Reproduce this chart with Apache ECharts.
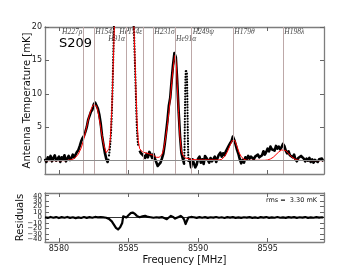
<!DOCTYPE html>
<html><head><meta charset="utf-8">
<script src="https://cdn.jsdelivr.net/npm/echarts@6/dist/echarts.min.js"></script>
<style>html,body{margin:0;padding:0;background:#fff}#c{width:360px;height:270px}</style>
</head><body><div id="c"></div>
<script>
// ---- data ----
const spectrum = [
[8579.0,0.3],[8579.1,-0.2],[8579.2,0.5],[8579.3,0.1],[8579.4,0.7],[8579.5,-0.1],[8579.6,0.4],[8579.7,0.8],[8579.8,0.0],[8579.9,0.3],
[8580.0,0.6],[8580.1,-0.2],[8580.2,0.5],[8580.3,0.2],[8580.4,0.8],[8580.5,-0.1],[8580.6,0.3],[8580.7,0.7],[8580.8,0.1],[8580.9,0.4],
[8581.0,0.9],[8581.1,0.5],[8581.2,0.9],[8581.3,1.3],[8581.4,1.6],[8581.5,2.2],[8581.6,2.9],[8581.7,3.4],[8581.8,3.7],[8581.9,4.3],
[8582.0,5.0],[8582.1,6.1],[8582.2,6.7],[8582.3,7.3],[8582.4,7.6],[8582.5,8.4],[8582.6,8.7],[8582.7,8.9],[8582.8,7.8],[8582.9,6.9],
[8583.0,5.6],[8583.1,3.7],[8583.2,2.4],[8583.3,1.2],[8583.4,0.3],[8583.5,-0.2],[8583.55,0.3],[8583.6,0.8],[8583.65,1.6],[8583.7,2.8],
[8583.75,4.5],[8583.8,7.0],[8583.85,10.5],[8583.9,15.0],[8583.95,19.5],
[8584.0,24],[8584.1,31],[8584.2,38],[8584.3,44],[8584.4,48],[8584.5,51],[8584.6,52],[8584.7,51],[8584.8,48],[8584.9,44],
[8585.0,39],[8585.1,33],[8585.2,27],[8585.3,23],[8585.35,21],[8585.4,19],[8585.45,15.5],[8585.5,12],[8585.55,8.5],[8585.6,5.0],
[8585.65,3.2],[8585.7,2.2],[8585.8,1.5],[8585.9,1.1],
[8586.0,1.3],[8586.1,0.7],[8586.2,0.4],[8586.3,1.0],[8586.4,0.5],[8586.5,1.3],[8586.6,0.9],[8586.7,0.4],[8586.8,1.0],[8586.9,0.3],
[8587.0,0.5],[8587.1,-0.8],[8587.2,-0.9],[8587.3,-0.3],[8587.4,0.3],[8587.5,1.0],[8587.6,2.4],[8587.7,4.2],[8587.8,6.0],[8587.9,8.2],
[8588.0,9.4],[8588.1,12.0],[8588.2,14.3],[8588.3,16.1],[8588.4,15.5],[8588.5,12.0],[8588.6,7.5],[8588.7,3.8],[8588.8,1.2],[8588.9,0.3],
[8589.0,-0.5],[8589.03,2.0],[8589.06,7.5],[8589.09,12.0],[8589.12,13.6],[8589.16,13.8],[8589.2,13.0],[8589.23,9.5],[8589.26,4.5],[8589.29,1.0],[8589.32,-0.2],
[8589.4,0.2],[8589.5,-1.0],[8589.6,0.2],[8589.7,-0.4],[8589.8,-1.0],[8589.9,-0.6],
[8590.0,0.3],[8590.1,0.6],[8590.2,-0.3],[8590.3,0.2],[8590.4,-0.5],[8590.5,0.7],[8590.6,0.8],[8590.7,0.1],[8590.8,-0.3],[8590.9,0.4],
[8591.0,-0.1],[8591.1,0.2],[8591.2,0.6],[8591.3,-0.2],[8591.4,0.4],[8591.5,0.9],[8591.6,1.2],[8591.7,0.6],[8591.8,1.1],[8591.9,0.8],
[8592.0,1.4],[8592.1,1.5],[8592.2,2.2],[8592.3,2.6],[8592.4,2.9],[8592.5,3.6],[8592.6,3.1],[8592.7,2.4],[8592.8,1.6],[8592.9,1.0],
[8593.0,0.2],[8593.1,-0.4],[8593.2,0.1],[8593.3,-0.3],[8593.4,0.5],[8593.5,0.2],[8593.6,0.7],[8593.7,0.3],[8593.8,0.6],[8593.9,0.8],
[8594.0,0.2],[8594.1,0.6],[8594.2,0.4],[8594.3,0.9],[8594.4,0.5],[8594.5,0.3],[8594.6,0.8],[8594.7,1.4],[8594.8,0.9],[8594.9,1.3],
[8595.0,1.8],[8595.1,1.4],[8595.2,2.1],[8595.3,1.7],[8595.4,1.9],[8595.5,1.5],[8595.6,2.2],[8595.7,1.8],[8595.8,2.1],[8595.9,1.7],
[8596.0,2.0],[8596.1,2.5],[8596.2,2.2],[8596.3,1.5],[8596.4,1.1],[8596.5,1.4],[8596.6,0.8],[8596.7,1.0],[8596.8,0.5],[8596.9,0.9],
[8597.0,0.2],[8597.1,-0.1],[8597.2,0.4],[8597.3,0.2],[8597.4,0.7],[8597.5,0.9],[8597.6,0.3],[8597.7,-0.1],[8597.8,0.3],[8597.9,0.0],
[8598.0,0.4],[8598.1,-0.2],[8598.2,0.2],[8598.3,-0.3],[8598.4,0.1],[8598.5,0.3],[8598.6,-0.2],[8598.7,0.2],[8598.8,0.0],[8598.9,0.3],
[8599.0,-0.1]
];
const model = [
[8579.0,0.0],[8580.5,0.0],[8580.8,0.1],[8581.0,0.2],[8581.2,0.5],[8581.4,1.0],[8581.6,1.9],[8581.75,2.9],[8581.9,4.2],[8582.05,5.6],
[8582.2,6.9],[8582.35,7.9],[8582.5,8.4],[8582.6,8.5],[8582.7,8.2],[8582.8,7.4],[8582.9,6.3],[8583.0,5.0],[8583.1,3.7],[8583.2,2.6],
[8583.3,1.8],[8583.4,1.2],[8583.45,1.0],[8583.5,1.1],[8583.6,1.8],[8583.7,3.4],[8583.8,7.5],[8583.9,14],[8584.0,21],[8584.1,29],
[8584.3,42],[8584.5,50],[8584.7,52],[8584.9,46],[8585.1,35],[8585.3,24],[8585.4,19.5],[8585.5,13],[8585.6,6.5],[8585.7,3.0],
[8585.8,1.8],[8586.0,1.3],[8586.5,1.0],[8586.8,0.8],[8587.0,0.5],[8587.2,0.5],[8587.4,0.9],[8587.5,1.5],[8587.6,2.6],[8587.7,3.8],
[8587.8,5.4],[8587.9,7.2],[8588.0,9.2],[8588.1,11.5],[8588.2,13.6],[8588.3,15.4],[8588.36,15.8],[8588.45,14.0],[8588.5,11.5],[8588.6,7.2],
[8588.7,3.5],[8588.8,1.6],[8588.9,0.8],[8589.1,0.4],[8589.5,0.2],[8590.0,0.1],[8591.5,0.1],[8591.7,0.2],[8591.9,0.6],[8592.1,1.3],
[8592.3,2.3],[8592.45,3.0],[8592.55,3.2],[8592.65,3.0],[8592.8,2.1],[8592.95,1.2],[8593.1,0.6],[8593.3,0.2],[8593.5,0.05],[8594.8,0.05],
[8595.0,0.1],[8595.2,0.25],[8595.4,0.5],[8595.6,0.9],[8595.8,1.3],[8596.0,1.6],[8596.13,1.7],[8596.3,1.5],[8596.5,1.1],[8596.7,0.6],
[8596.9,0.3],[8597.1,0.1],[8597.4,0.02],[8599.0,0.0]
];
const residuals = [
[8579.0,0.5],[8579.2,-0.8],[8579.4,1.0],[8579.6,-0.5],[8579.8,0.8],[8580.0,-1.0],[8580.2,0.6],[8580.4,-0.4],[8580.6,1.0],[8580.8,-0.6],
[8581.0,0.4],[8581.2,-1.2],[8581.4,0.3],[8581.6,-0.9],[8581.8,0.8],[8582.0,-0.7],[8582.2,0.6],[8582.4,-0.4],[8582.6,1.0],[8582.8,0.2],
[8583.0,0.8],[8583.2,0.1],[8583.4,-0.5],[8583.6,-2.5],[8583.8,-7],[8583.95,-13],[8584.1,-19],[8584.25,-22],[8584.4,-18],[8584.55,-10],
[8584.62,2],[8584.7,3],[8584.85,0],[8585.0,4],[8585.15,8],[8585.3,9],[8585.45,7],[8585.6,3],[8585.8,0.5],[8586.0,2],
[8586.2,3],[8586.4,1],[8586.6,0.5],[8586.8,-0.5],[8587.0,0.5],[8587.2,-0.3],[8587.4,0.8],[8587.6,-1.5],[8587.75,-3],[8587.9,0],
[8588.05,3],[8588.2,1],[8588.35,-2],[8588.45,-4],[8588.6,1],[8588.75,3],[8588.9,0],[8589.0,-4],[8589.1,-12],[8589.2,-6],
[8589.3,0],[8589.5,1],[8589.7,0.5],[8589.9,-0.6],[8590.1,0.8],[8590.3,-0.4],[8590.5,0.6],[8590.7,-0.8],[8590.9,0.5],[8591.1,-0.3],
[8591.3,0.9],[8591.5,-0.5],[8591.7,0.4],[8591.9,-0.9],[8592.1,0.6],[8592.3,-0.2],[8592.5,0.8],[8592.7,-0.6],[8592.9,0.3],[8593.1,-0.8],
[8593.3,0.5],[8593.5,-0.3],[8593.7,0.7],[8593.9,-0.6],[8594.1,0.2],[8594.3,-0.9],[8594.5,0.6],[8594.7,-0.2],[8594.9,0.8],[8595.1,-0.7],
[8595.3,0.3],[8595.5,-0.5],[8595.7,0.9],[8595.9,-0.4],[8596.1,0.2],[8596.3,-0.8],[8596.5,0.6],[8596.7,-0.3],[8596.9,0.7],[8597.1,-0.6],
[8597.3,0.4],[8597.5,-0.2],[8597.7,0.8],[8597.9,-0.7],[8598.1,0.3],[8598.3,-0.5],[8598.5,0.6],[8598.7,-0.3],[8598.9,0.5],[8599.0,0.0]
];
const lineNames = ['H227\u03c1','H154\u03b5','H91\u03b1','He154\u03b5','H231\u03c3','He91\u03b1','H249\u03c8','H179\u03b8','H198\u03bb'];
const lineFreqs = [8581.75, 8582.54, 8584.82, 8586.06, 8586.78, 8588.34, 8589.54, 8592.53, 8596.13];
const xTicks = [8580, 8585, 8590, 8595];
const yTicks = [0, 5, 10, 15, 20];
const residTicks = [-40, -30, -20, -10, 0, 10, 20, 30, 40];
const sourceName = 'S209';
const rmsText = 'rms =  3.30 mK';

// ---- layout / style (not data) ----
const labelPlacement = [ // side of the line the label sits, and row
  {side:'left',row:0},{side:'right',row:0},{side:'left',row:1},{side:'left',row:0},{side:'right',row:0},
  {side:'right',row:1},{side:'right',row:0},{side:'right',row:0},{side:'right',row:0}];
const rowY = [19.25, 18.25];
const steepRanges = [[8583.58, 8585.72], [8589.0, 8589.32]];

const inSteep = f => steepRanges.some(r => f > r[0] && f < r[1]);
const solidData = spectrum.map(p => inSteep(p[0]) ? [p[0], '-'] : p);
const steepData = spectrum.map(p => (inSteep(p[0]) || steepRanges.some(r => p[0] === r[0] || p[0] === r[1])) ? p : [p[0], '-']);
// residual tick labels are split over two coincident left axes so none is dropped for overlap
const residEven = residTicks.filter((v, i) => i % 2 === 0);
const residOdd = residTicks.filter((v, i) => i % 2 === 1);

const FONT = 'DejaVu Sans';
const frame = {show:true, onZero:false, lineStyle:{color:'#7d7d7d', width:1.3}};
const tick = vals => ({show:true, inside:true, length:4, customValues:vals, lineStyle:{color:'#666', width:1}});
const XMIN = 8579, XMAX = 8599.05;
const fmt = v => (v < 0 ? '\u2212' + Math.abs(v) : String(v));
function xAx(g, pos, showLab, name) {
  return {type:'value', gridIndex:g, position:pos, min:XMIN, max:XMAX, axisLine:frame, axisTick:tick(xTicks),
    splitLine:{show:false},
    axisLabel:{show:showLab, customValues:xTicks, fontSize:8, color:'#222', margin:3, fontFamily:FONT,
      formatter: v => String(v)},
    name:name||'', nameLocation:'middle', nameGap:13, nameMoveOverlap:false,
    nameTextStyle:{fontSize:10, color:'#111', fontFamily:FONT}};
}
function yAx(g, pos, min, max, ticks, labs, name, gap, fs) {
  return {type:'value', gridIndex:g, position:pos, min:min, max:max, axisLine:frame, axisTick:tick(ticks),
    splitLine:{show:false},
    axisLabel:{show:!!labs, customValues:labs || ticks, interval:0, hideOverlap:false, showMinLabel:true, showMaxLabel:true,
      fontSize:fs, color:'#222', margin:3, fontFamily:FONT, lineHeight:fs, formatter: fmt},
    name:name||'', nameLocation:'middle', nameGap:gap, nameRotate:90, nameMoveOverlap:false,
    nameTextStyle:{fontSize:10, color:'#111', fontFamily:FONT}};
}
const residOddAxis = {type:'value', gridIndex:1, position:'left', min:-45, max:45,
  axisLine:{show:false}, axisTick:{show:false}, splitLine:{show:false},
  axisLabel:{show:true, customValues:residOdd, interval:0, hideOverlap:false, fontSize:7, color:'#222', margin:3,
    fontFamily:FONT, lineHeight:7, formatter: fmt}};

const chart = echarts.init(document.getElementById('c'), null, {renderer:'canvas'});
chart.setOption({
  animation:false,
  backgroundColor:'#fff',
  grid:[{left:45, right:36, top:27, height:147}, {left:45, right:36, top:193, height:49}],
  xAxis:[xAx(0,'bottom',false), xAx(0,'top',false), xAx(1,'bottom',true,'Frequency [MHz]'), xAx(1,'top',false)],
  yAxis:[yAx(0,'left',-2,20,yTicks,yTicks,'Antenna Temperature [mK]',13,8), yAx(0,'right',-2,20,yTicks,null),
         yAx(1,'left',-45,45,residTicks,residEven,'Residuals',20,7), yAx(1,'right',-45,45,residTicks,null),
         residOddAxis],
  graphic:[
    {type:'text', left:59, top:37, style:{text:sourceName, font:'13px "DejaVu Sans"', fill:'#000'}},
    {type:'text', right:43, top:197, style:{text:rmsText, font:'6.5px "DejaVu Sans"', fill:'#111'}}
  ],
  series:[
    {type:'scatter', xAxisIndex:0, yAxisIndex:0, symbolSize:0, z:1, silent:true,
      data: lineFreqs.map((f,i) => ({value:[f, rowY[labelPlacement[i].row]],
        label:{show:true, position: labelPlacement[i].side, distance:1, formatter: lineNames[i],
          fontFamily:'Liberation Serif', fontStyle:'italic', fontSize:7.5, color:'#111'}})),
      markLine:{silent:true, symbol:['none','none'], label:{show:false},
        lineStyle:{type:'solid', color:'#bda8a8', width:1},
        data: lineFreqs.map(f => ({xAxis:f}))}},
    {type:'line', xAxisIndex:0, yAxisIndex:0, data:[], z:1, silent:true,
      markLine:{silent:true, symbol:['none','none'], label:{show:false},
        lineStyle:{type:'solid', color:'#8c8c8c', width:1.2}, data:[{yAxis:0}]}},
    {type:'line', xAxisIndex:0, yAxisIndex:0, data:solidData, showSymbol:false, z:3, clip:true,
      lineStyle:{color:'#000', width:2.6, join:'round'}},
    {type:'line', xAxisIndex:0, yAxisIndex:0, data:steepData, showSymbol:false, z:3, clip:true,
      lineStyle:{color:'#000', width:2.2, type:[0.01, 2.8], cap:'round'}},
    {type:'line', xAxisIndex:0, yAxisIndex:0, data:model, showSymbol:false, z:4, clip:true,
      lineStyle:{color:'#ff0000', width:1}},
    {type:'line', xAxisIndex:2, yAxisIndex:2, data:residuals, showSymbol:false, z:3, clip:true,
      lineStyle:{color:'#000', width:2.2, join:'round'},
      markLine:{silent:true, symbol:['none','none'], label:{show:false},
        lineStyle:{type:'solid', color:'#000', width:0.8}, data:[{yAxis:0}]}}
  ]
});
</script></body></html>
